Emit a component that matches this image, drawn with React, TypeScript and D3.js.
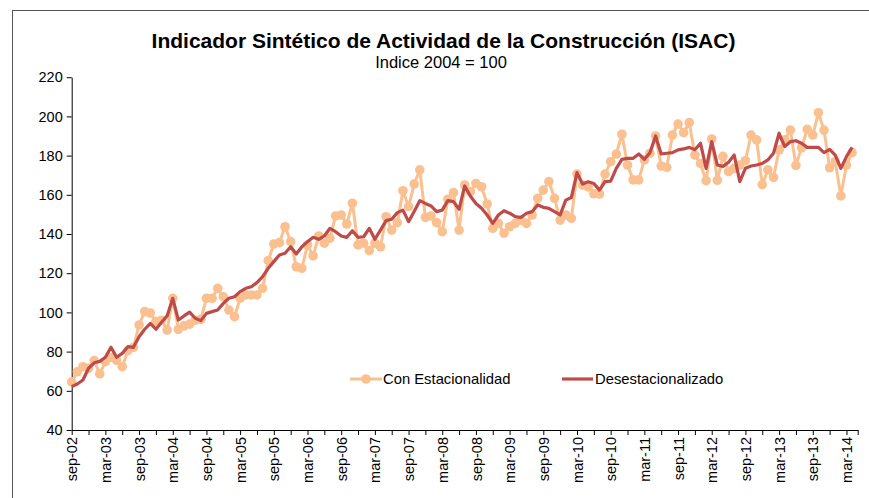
import { useEffect, useRef } from "react";
import * as d3 from "d3";

// labels every 6 months, starting sep-02
const tickLabels = [
  "sep-02", "mar-03", "sep-03", "mar-04", "sep-04", "mar-05", "sep-05", "mar-06",
  "sep-06", "mar-07", "sep-07", "mar-08", "sep-08", "mar-09", "sep-09", "mar-10",
  "sep-10", "mar-11", "sep-11", "mar-12", "sep-12", "mar-13", "sep-13", "mar-14",
];

// monthly values, sep-02 .. apr-14
const conEstacionalidad = [
  64.6, 69.7, 72.3, 71.5, 75.4, 68.6, 74.9, 77, 75.5, 72.3, 80.5, 82.2,
  93.6, 100.4, 99.7, 95.3, 96, 91, 107.2, 91.4, 93.1, 94, 96, 96.5,
  107.2, 107.2, 112.3, 108, 101.2, 97.8, 107.2, 108.9, 108.9, 108.9, 112.3, 126.4,
  134.9, 135.6, 143.7, 136.1, 123.3, 122.5, 134.4, 128.8, 139, 135.3, 137.8, 149.2,
  149.7, 145.1, 155.7, 134.4, 135.3, 131.5, 135.3, 133.5, 148.8, 142, 145.8, 162.1,
  154, 165.5, 172.7, 148.5, 149.2, 145.8, 141.2, 157.7, 161.1, 142, 165, 161.6,
  165.8, 164.1, 155.3, 142.9, 145.4, 140.4, 143.7, 145.4, 147.1, 145.4, 149.7, 158.2,
  162.4, 166.7, 158.2, 147.1, 149.7, 148, 170.6, 165, 164, 160.5, 160.4, 170.6,
  176.9, 180.8, 190.9, 175.2, 167.6, 167.6, 177.8, 181.2, 190, 174.7, 174, 190.5,
  196.1, 191.7, 196.8, 180.3, 176, 167.2, 188.5, 167.4, 179.6, 171.8, 173.5, 175.2,
  177.4, 190.5, 188, 165.2, 172.7, 168.9, 182.9, 188, 193, 175, 184, 193.4,
  190.5, 201.9, 193, 173.8, 176.9, 159.4, 175.2, 181.5,
];

const desestacionalizado = [
  62.1, 63.5, 65.5, 71.5, 74.3, 75, 77.1, 82.2, 77.1, 79.1, 82.5, 82.2,
  87.6, 91.4, 94.4, 91.4, 95, 98.2, 107.2, 96.1, 98.2, 100.1, 97, 95.8,
  99.5, 100.4, 101.2, 104.6, 107.2, 108, 110.6, 112.3, 113.1, 115.2, 118.2, 122.5,
  125.9, 129.3, 130.2, 133.5, 129.8, 133.5, 136.1, 138.3, 137.3, 139, 142.9, 141.2,
  139, 138.3, 141.7, 138.3, 138.6, 142.9, 137.3, 142, 146.8, 147.5, 150.9, 152.2,
  146.3, 151.5, 157, 155.6, 154.3, 151.4, 152.2, 157, 156.5, 152.6, 164.5, 159.4,
  155.6, 153.1, 149.7, 145.4, 149.7, 151.9, 150.6, 148.9, 148.4, 150.6, 151.4, 154.8,
  153.6, 153.1, 151.4, 149.7, 157.3, 158.6, 171.3, 165.5, 166.7, 165.8, 162.4, 166.7,
  167, 173.5, 178.1, 178.6, 178.6, 180.8, 178.1, 181.5, 190, 180.8, 181.2, 181.5,
  182.9, 183.4, 184.2, 183, 186.3, 173.5, 187.1, 175.2, 174.5, 176.6, 180.3, 166.7,
  173.5, 174.7, 175.2, 176, 177.8, 181.2, 191.4, 184.6, 187.1, 187.6, 186.3, 184.2,
  184.2, 184.2, 181.5, 183.2, 180.3, 173.5, 179.5, 184.2,
];

const yTicks = [40, 60, 80, 100, 120, 140, 160, 180, 200, 220];

const FONT = "Arial, 'Liberation Sans', sans-serif";
const ORANGE = "#FAC090";
const RED = "#BE4B48";

function renderChart(el: SVGSVGElement) {
  const svg = d3.select(el);
  svg.selectAll("*").remove();

  // chart area border (only top and left visible)
  svg.append("rect")
    .attr("x", 12.5).attr("y", 10.5)
    .attr("width", 900).attr("height", 600)
    .attr("fill", "none").attr("stroke", "#555").attr("stroke-width", 1);

  const x = d3.scaleLinear().domain([0, 140]).range([71.7, 857.7]);
  const y = d3.scaleLinear().domain([40, 220]).range([430, 77.2]);

  // title
  svg.append("text")
    .attr("x", 443.5).attr("y", 48)
    .attr("text-anchor", "middle")
    .style("font-family", FONT).style("font-size", "21px").style("font-weight", "bold")
    .text("Indicador Sintético de Actividad de la Construcción (ISAC)");
  svg.append("text")
    .attr("x", 441).attr("y", 68)
    .attr("text-anchor", "middle")
    .style("font-family", FONT).style("font-size", "16.5px")
    .text("Indice 2004 = 100");

  // Y axis
  const yAxis = svg.append("g")
    .attr("transform", "translate(71.7,0)")
    .call(d3.axisLeft(y).tickValues(yTicks).tickSize(5).tickSizeOuter(0).tickPadding(4));
  yAxis.selectAll("text").style("font-family", FONT).style("font-size", "14.5px").attr("fill", "#000");
  yAxis.selectAll("line, path").attr("stroke", "#000");

  // X axis
  const xTickVals = d3.range(0, 139, 3).concat([140]);
  const xAxis = svg.append("g")
    .attr("transform", "translate(0,430)")
    .call(
      d3.axisBottom(x)
        .tickValues(xTickVals)
        .tickSize(5)
        .tickSizeOuter(0)
        .tickFormat((d) => {
          const v = d as number;
          return v % 6 === 0 && v / 6 < tickLabels.length ? tickLabels[v / 6] : "";
        })
    );
  xAxis.selectAll("line, path").attr("stroke", "#000");
  xAxis.selectAll("text")
    .attr("transform", "rotate(-90)")
    .attr("x", -7).attr("y", 0).attr("dy", "0.35em")
    .style("text-anchor", "end")
    .style("font-family", FONT).style("font-size", "14.5px").attr("fill", "#000");

  const line = d3.line<number>()
    .x((_, i) => x(i))
    .y((d) => y(d));

  // Con Estacionalidad
  svg.append("path")
    .datum(conEstacionalidad)
    .attr("d", line)
    .attr("fill", "none").attr("stroke", ORANGE).attr("stroke-width", 3)
    .attr("stroke-linejoin", "round");
  svg.append("g")
    .selectAll("circle")
    .data(conEstacionalidad)
    .join("circle")
    .attr("cx", (_, i) => x(i))
    .attr("cy", (d) => y(d))
    .attr("r", 4.8)
    .attr("fill", ORANGE);

  // Desestacionalizado
  svg.append("path")
    .datum(desestacionalizado)
    .attr("d", line)
    .attr("fill", "none").attr("stroke", RED).attr("stroke-width", 3.2)
    .attr("stroke-linejoin", "round");

  // legend
  const lg = svg.append("g").attr("transform", "translate(0,379)");
  lg.append("line").attr("x1", 350).attr("x2", 382).attr("y1", 0).attr("y2", 0)
    .attr("stroke", ORANGE).attr("stroke-width", 3);
  lg.append("circle").attr("cx", 366).attr("cy", 0).attr("r", 4.8).attr("fill", ORANGE);
  lg.append("text").attr("x", 383).attr("y", 5)
    .style("font-family", FONT).style("font-size", "14.8px")
    .text("Con Estacionalidad");
  lg.append("line").attr("x1", 562).attr("x2", 593).attr("y1", 0).attr("y2", 0)
    .attr("stroke", RED).attr("stroke-width", 3.2);
  lg.append("text").attr("x", 595).attr("y", 5)
    .style("font-family", FONT).style("font-size", "14.8px")
    .text("Desestacionalizado");
}

export default function App() {
  const ref = useRef<SVGSVGElement>(null);
  useEffect(() => {
    if (ref.current) renderChart(ref.current);
  }, []);
  return (
    <svg
      ref={ref}
      width={869}
      height={498}
      style={{ position: "absolute", left: 0, top: 0, background: "#fff" }}
    />
  );
}
